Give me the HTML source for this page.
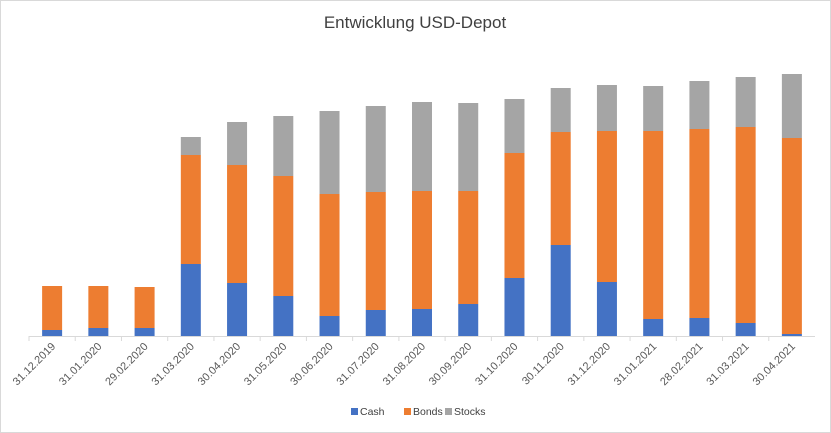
<!DOCTYPE html>
<html><head><meta charset="utf-8">
<style>
body{margin:0;background:#fff;}
svg{display:block;font-family:"Liberation Sans",sans-serif;}
</style></head>
<body>
<svg id="chart" width="831" height="433" viewBox="0 0 831 433">
<rect x="0.5" y="0.5" width="830" height="432" fill="#fff" stroke="#d9d9d9"/>
<text x="415" y="28" text-anchor="middle" font-size="17" fill="#404040">Entwicklung USD-Depot</text>
<g id="bars"></g>
<line x1="29" y1="336.5" x2="815" y2="336.5" stroke="#d9d9d9"/>
<g id="xlabels"></g>
<g font-size="10.5" fill="#404040">
<rect x="351" y="408" width="7" height="7" fill="#4472c4"/>
<text x="360" y="415">Cash</text>
<rect x="404" y="408" width="7" height="7" fill="#ed7d31"/>
<text x="413" y="415">Bonds</text>
<rect x="445" y="408" width="7" height="7" fill="#a5a5a5"/>
<text x="454" y="415">Stocks</text>
</g>
</svg>
<script>
const categories=["31.12.2019","31.01.2020","29.02.2020","31.03.2020","30.04.2020","31.05.2020","30.06.2020","31.07.2020","31.08.2020","30.09.2020","31.10.2020","30.11.2020","31.12.2020","31.01.2021","28.02.2021","31.03.2021","30.04.2021"];
const cash=[6,8,8,72,53,40,20,26,27,32,58,91,54,17,18,13,2];
const bonds=[44,42,41,109,118,120,122,118,118,113,125,113,151,188,189,196,196];
const stocks=[0,0,0,18,43,60,83,86,89,88,54,44,46,45,48,50,64];
const svg=document.getElementById('chart');
const NS='http://www.w3.org/2000/svg';
const x0=29,x1=815,baseY=336,bw=20;
const step=(x1-x0)/categories.length;
function xc(i){return x0+step*(i+0.5);}
function yv(v){return baseY-v;}
const gb=document.getElementById('bars');
const series=[["cash",cash,"#4472c4"],["bonds",bonds,"#ed7d31"],["stocks",stocks,"#a5a5a5"]];
categories.forEach((c,i)=>{
  let acc=0;
  series.forEach(([n,arr,col])=>{
    const v=arr[i];
    const r=document.createElementNS(NS,'rect');
    r.setAttribute('x',xc(i)-bw/2);
    r.setAttribute('y',yv(acc+v));
    r.setAttribute('width',bw);
    r.setAttribute('height',v);
    r.setAttribute('fill',col);
    
    
    gb.appendChild(r);
    acc+=v;
  });
  const t=document.createElementNS(NS,'text');
  t.setAttribute('x',xc(i)+4);
  t.setAttribute('y',347);
  t.setAttribute('text-anchor','end');
  t.setAttribute('font-size','11');
  t.setAttribute('fill','#595959');
  t.setAttribute('transform','rotate(-45 '+(xc(i)+4)+' 347)');
  t.textContent=c;
  
  
  document.getElementById('xlabels').appendChild(t);
  const tk=document.createElementNS(NS,'line');
  tk.setAttribute('x1',x0+step*i);tk.setAttribute('x2',x0+step*i);
  tk.setAttribute('y1',336);tk.setAttribute('y2',341);
  tk.setAttribute('stroke','#d9d9d9');
  
  
  document.getElementById('xlabels').appendChild(tk);
});
</script>
</body></html>
